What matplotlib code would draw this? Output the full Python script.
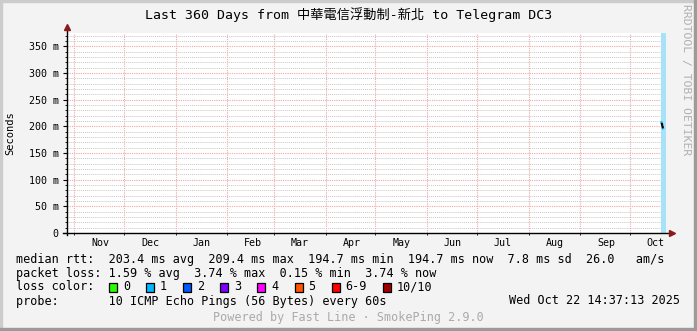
import datetime as dt
import matplotlib
matplotlib.use("Agg")
import matplotlib.pyplot as plt
import matplotlib.dates as mdates
from matplotlib.patches import Rectangle
from matplotlib.ticker import MultipleLocator, FixedLocator, NullFormatter

plt.rcParams['font.family'] = ['DejaVu Sans Mono', 'Noto Sans CJK TC']

# ---- data ----
end_time = dt.datetime(2025, 10, 22, 14, 37, 13)
start_time = end_time - dt.timedelta(days=360)

title = "Last 360 Days from 中華電信浮動制-新北 to Telegram DC3"
y_ticks = [0, 0.05, 0.10, 0.15, 0.20, 0.25, 0.30, 0.35]
y_tick_labels = ['0', '50 m', '100 m', '150 m', '200 m', '250 m', '300 m', '350 m']
month_starts = [dt.datetime(2024, 11, 1), dt.datetime(2024, 12, 1), dt.datetime(2025, 1, 1),
                dt.datetime(2025, 2, 1), dt.datetime(2025, 3, 1), dt.datetime(2025, 4, 1),
                dt.datetime(2025, 5, 1), dt.datetime(2025, 6, 1), dt.datetime(2025, 7, 1),
                dt.datetime(2025, 8, 1), dt.datetime(2025, 9, 1), dt.datetime(2025, 10, 1)]
month_labels = ['Nov', 'Dec', 'Jan', 'Feb', 'Mar', 'Apr', 'May', 'Jun', 'Jul', 'Aug', 'Sep', 'Oct']

# median rtt samples (days before end, seconds)
median_days = [-3.0, -2.6, -2.2, -1.8, -1.4]
median_rtt = [0.2094, 0.2065, 0.2010, 0.1960, 0.1947]
median_col = ['#00b8ff', '#000000', '#000000', '#00b8ff']
loss_band_days = [-3.1, 0.0]

loss_labels = ['0', '1', '2', '3', '4', '5', '6-9', '10/10']
loss_colors = ['#26ff00', '#00b8ff', '#0059ff', '#7e00ff', '#ff00ff', '#ff5500', '#ff0000', '#a10000']

rtt_line = "median rtt:  203.4 ms avg  209.4 ms max  194.7 ms min  194.7 ms now  7.8 ms sd  26.0   am/s"
loss_line = "packet loss: 1.59 % avg  3.74 % max  0.15 % min  3.74 % now"
probe_line = "probe:       10 ICMP Echo Pings (56 Bytes) every 60s"
stamp = "Wed Oct 22 14:37:13 2025"
footer = "Powered by Fast Line · SmokePing 2.9.0"

W, H = 697, 331


def fx(px):
    return px / W


def fy(py):
    return 1 - py / H


fig = plt.figure(figsize=(W / 100, H / 100), dpi=100, facecolor='#f3f3f3')

# frame bevel
fig.patches.append(Rectangle((0, 0), fx(2), 1, transform=fig.transFigure, color='#cccccc', zorder=0))
fig.patches.append(Rectangle((0, fy(2)), 1, 2 / H, transform=fig.transFigure, color='#cccccc', zorder=0))
fig.patches.append(Rectangle((fx(W - 3), 0), fx(3), 1, transform=fig.transFigure, color='#9b9b9b', zorder=0))
fig.patches.append(Rectangle((0, 0), 1, 3 / H, transform=fig.transFigure, color='#9b9b9b', zorder=0))

ax = fig.add_axes([fx(67), fy(233), fx(666) - fx(67), (233 - 33) / H])
ax.set_facecolor('white')
for s in ax.spines.values():
    s.set_visible(False)

ax.set_xlim(start_time, end_time)
ax.set_ylim(0, 0.375)

# grids
ax.yaxis.set_major_locator(FixedLocator(y_ticks))
ax.set_yticklabels(y_tick_labels)
ax.yaxis.set_minor_locator(MultipleLocator(0.01))
ax.xaxis.set_major_locator(FixedLocator(mdates.date2num(month_starts)))
ax.xaxis.set_major_formatter(NullFormatter())
mids = [m + dt.timedelta(days=15.5) for m in month_starts]
ax.xaxis.set_minor_locator(FixedLocator(mdates.date2num(mids)))
ax.set_xticklabels(month_labels, minor=True)

ax.grid(which='minor', axis='y', color='#c8c8c8', linestyle=(0, (1, 1)), linewidth=0.7)
ax.grid(which='major', axis='y', color='#f0a8a8', linestyle=(0, (1, 1)), linewidth=0.8)
ax.grid(which='major', axis='x', color='#f0a8a8', linestyle=(0, (1, 1)), linewidth=0.8)
ax.set_axisbelow(True)

ax.tick_params(axis='y', which='major', length=3, width=0.8, pad=3, labelsize=7.2)
ax.tick_params(axis='y', which='minor', length=1.5, width=0.6)
ax.tick_params(axis='x', which='major', length=1.5, width=0.6)
ax.tick_params(axis='x', which='minor', length=0, pad=3.5, labelsize=7.2)

# loss band and median line
band = [end_time + dt.timedelta(days=d) for d in loss_band_days]
ax.axvspan(band[0], band[1], color='#a8e2f8', zorder=2, lw=0)
mt = [end_time + dt.timedelta(days=d) for d in median_days]
for i in range(len(mt) - 1):
    ax.plot(mt[i:i + 2], median_rtt[i:i + 2], color=median_col[i], lw=1.6, zorder=3,
            solid_capstyle='butt')

# axis lines with arrows
ax.plot([-4 / 599, 603 / 599], [0, 0], transform=ax.transAxes, color='black', lw=1, clip_on=False, zorder=4)
ax.plot([0, 0], [-2 / 200, 1.02], transform=ax.transAxes, color='black', lw=1, clip_on=False, zorder=4)
ax.plot([0], [1.03], transform=ax.transAxes, marker='^', color='#8b1a1a', ms=5, clip_on=False, zorder=5)
ax.plot([605 / 599], [0], transform=ax.transAxes, marker='>', color='#8b1a1a', ms=5, clip_on=False, zorder=5)

# titles and labels
fig.text(0.5, fy(15), title, ha='center', va='center', fontsize=9.5)
fig.text(fx(10), fy(133), 'Seconds', rotation=90, ha='center', va='center', fontsize=7.5)
fig.text(fx(686), fy(4), 'RRDTOOL / TOBI OETIKER', rotation=270, ha='center', va='top',
         fontsize=8.2, color='#b0b0b0')

# legend
fig.text(fx(16), fy(259), rtt_line, ha='left', va='center', fontsize=8.5)
fig.text(fx(16), fy(273), loss_line, ha='left', va='center', fontsize=8.5)
fig.text(fx(16), fy(287), 'loss color:', ha='left', va='center', fontsize=8.5)
bx = 109
for lab, col in zip(loss_labels, loss_colors):
    fig.patches.append(Rectangle((fx(bx), fy(292)), fx(8), 9 / H, transform=fig.transFigure,
                                 facecolor=col, edgecolor='black', lw=0.9))
    fig.text(fx(bx + 14), fy(287), lab, ha='left', va='center', fontsize=8.5)
    bx += 14 + len(lab) * 7.1 + 16
fig.text(fx(16), fy(301), probe_line, ha='left', va='center', fontsize=8.5)
fig.text(fx(680), fy(301), stamp, ha='right', va='center', fontsize=8.5)
fig.text(0.5, fy(318), footer, ha='center', va='center', fontsize=8.5, color='#aaaaaa')

fig.savefig('out.png', dpi=100, facecolor=fig.get_facecolor())
